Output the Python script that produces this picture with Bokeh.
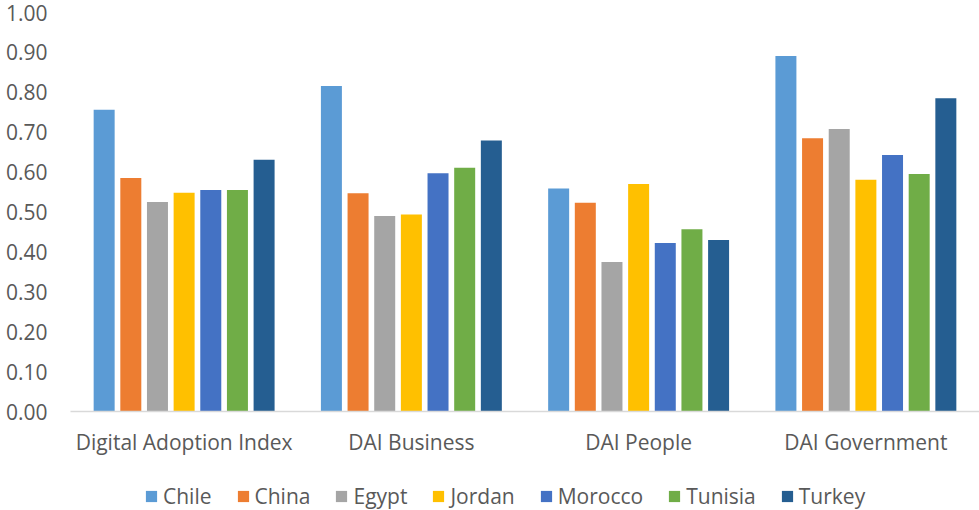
from bokeh.plotting import figure
from bokeh.layouts import column
from bokeh.models import FactorRange, Range1d, Legend, LegendItem, NumeralTickFormatter, FixedTicker, ColumnDataSource
from bokeh.transform import dodge
from bokeh.embed import file_html
from bokeh.resources import INLINE

categories = ["Digital Adoption Index", "DAI Business", "DAI People", "DAI Government"]
countries = ["Chile", "China", "Egypt", "Jordan", "Morocco", "Tunisia", "Turkey"]
chile = [0.756, 0.816, 0.559, 0.891]
china = [0.585, 0.547, 0.523, 0.685]
egypt = [0.525, 0.490, 0.375, 0.708]
jordan = [0.548, 0.494, 0.570, 0.581]
morocco = [0.555, 0.597, 0.422, 0.643]
tunisia = [0.555, 0.611, 0.457, 0.595]
turkey = [0.631, 0.679, 0.430, 0.785]
y_ticks = [0.0, 0.1, 0.2, 0.3, 0.4, 0.5, 0.6, 0.7, 0.8, 0.9, 1.0]

colors = ["#5B9BD5", "#ED7D31", "#A5A5A5", "#FFC000", "#4472C4", "#70AD47", "#255E91"]
series = [chile, china, egypt, jordan, morocco, tunisia, turkey]

FONT = "Open Sans"
TXT = "#595959"
FS = "21px"

p = figure(width=979, height=460, x_range=FactorRange(*categories), y_range=Range1d(0, 1),
           output_backend="svg", toolbar_location=None,
           min_border_left=70, min_border_right=0, min_border_top=12, min_border_bottom=49)
p.x_range.range_padding = 0
p.outline_line_color = None
p.xgrid.visible = False
p.ygrid.visible = False

data = {"cat": categories}
for name, vals in zip(countries, series):
    data[name] = vals
src = ColumnDataSource(data)

step = 0.1173
bw = 0.0924
for i, (name, col) in enumerate(zip(countries, colors)):
    off = (i - 3) * step
    p.vbar(x=dodge("cat", off, range=p.x_range), top=name, width=bw, bottom=0,
           source=src, fill_color=col, line_color=None)

p.yaxis.ticker = FixedTicker(ticks=y_ticks)
p.yaxis.formatter = NumeralTickFormatter(format="0.00")
p.yaxis.axis_line_color = None
p.yaxis.major_tick_line_color = None
p.yaxis.minor_tick_line_color = None
p.yaxis.major_tick_out = 0
p.yaxis.minor_tick_out = 0
p.yaxis.major_label_standoff = 23
p.yaxis.major_label_text_font = FONT
p.yaxis.major_label_text_font_size = FS
p.yaxis.major_label_text_color = TXT

p.xaxis.axis_line_color = "#D9D9D9"
p.xaxis.axis_line_width = 1.5
p.xaxis.major_tick_line_color = None
p.xaxis.minor_tick_line_color = None
p.xaxis.major_tick_out = 0
p.xaxis.major_label_standoff = 16
p.xaxis.major_label_text_font = FONT
p.xaxis.major_label_text_font_size = FS
p.xaxis.major_label_text_color = TXT

# legend strip (swatch-only renderers of zero size, legend is the only visible content)
p2 = figure(width=979, height=50, x_range=Range1d(0, 1), y_range=Range1d(0, 1),
            output_backend="svg", toolbar_location=None,
            x_axis_location=None, y_axis_location=None,
            min_border_left=0, min_border_right=0, min_border_top=0, min_border_bottom=0)
p2.outline_line_color = None
p2.xgrid.visible = False
p2.ygrid.visible = False
leg_src = ColumnDataSource({"x": [0.5], "t": [0.0]})
items = []
for name, col in zip(countries, colors):
    r = p2.vbar(x="x", top="t", bottom="t", width=0, source=leg_src, fill_color=col, line_color=None)
    items.append(LegendItem(label=name, renderers=[r]))
legend = Legend(items=items, orientation="horizontal", location=(74, 0),
                border_line_color=None, background_fill_alpha=0,
                glyph_width=14, glyph_height=14, label_standoff=5, spacing=24,
                padding=0, margin=0, label_text_font=FONT, label_text_font_size=FS,
                label_text_color=TXT)
p2.add_layout(legend)

layout = column(p, p2, spacing=0)
open("out.html", "w").write(file_html(layout, INLINE))
